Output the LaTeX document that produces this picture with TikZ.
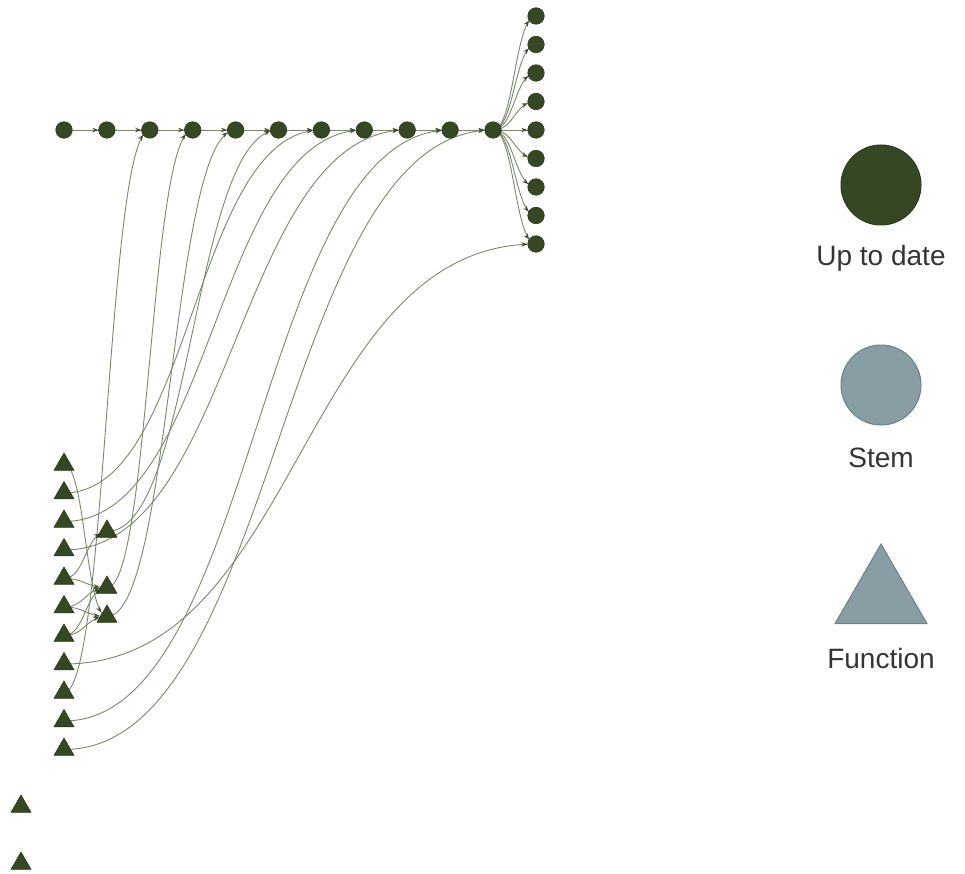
\documentclass[tikz,border=0pt]{standalone}
\usepackage{fontspec}
\setmainfont{Liberation Sans}
\usetikzlibrary{shapes.geometric,arrows.meta,calc,decorations.markings}
\pgfdeclarelayer{edgelayer}
\pgfsetlayers{edgelayer,main}
\definecolor{utd}{HTML}{354823}
\definecolor{utdb}{HTML}{2B3A1C}
\definecolor{stem}{HTML}{899DA4}
\definecolor{stemb}{HTML}{6D8189}
\definecolor{edgecol}{HTML}{7B876C}
\definecolor{arrowcol}{HTML}{3E4E2E}
\definecolor{textcol}{HTML}{343434}
\newcommand\cedge[3]{%
  \path let \p1=(#1.center), \p2=(#2.center) in
    coordinate (#1-#2-a) at ({0.5*\x1+0.5*\x2},\y1)
    coordinate (#1-#2-b) at ({0.5*\x1+0.5*\x2},\y2);
  \draw[edge=#3] (#1.center) .. controls (#1-#2-a) and (#1-#2-b) .. (#2.center);}
\begin{document}
\begin{tikzpicture}[x=1pt,y=-1pt,
  edge/.style={draw=edgecol, line width=0.9pt, postaction={decorate, decoration={markings,
     mark=at position -#1 with {\arrow[arrowcol]{Stealth[length=6pt,width=4.5pt]}}}}},
  utdc/.style={circle, fill=utd, draw=utdb, line width=0.6pt, minimum size=16.5pt, inner sep=0pt},
  utdt/.style={regular polygon, regular polygon sides=3, fill=utd, draw=utdb, line width=0.6pt, minimum size=23pt, inner sep=0pt},
  lab/.style={text=textcol, font=\fontsize{28}{32}\selectfont, inner sep=0pt}]
\useasboundingbox (0,0) rectangle (965,874);
% nodes
\foreach \i in {0,...,10} \node[utdc] (C\i) at ({64+42.9*\i},130) {};
\foreach \i in {0,...,8} \node[utdc] (R\i) at (536,{16+28.5*\i}) {};
\foreach \i in {0,...,10} \node[utdt] (T\i) at (64,{464.5+28.5*\i}) {};
\node[utdt] (M0) at (107,531.5) {};
\node[utdt] (M1) at (107,587.5) {};
\node[utdt] (M2) at (107,616.5) {};
\node[utdt] (X0) at (21,806.5) {};
\node[utdt] (X1) at (21,863.5) {};
% edges
\begin{pgfonlayer}{edgelayer}
\foreach \a/\b in {C0/C1,C1/C2,C2/C3,C3/C4,C4/C5,C5/C6,C6/C7,C7/C8,C8/C9,C9/C10,
  C10/R0,C10/R1,C10/R2,C10/R3,C10/R4,C10/R5,C10/R6,C10/R7,C10/R8,
  T8/C2,M1/C3,M2/C4,M0/C5,T1/C6,T2/C7,T3/C8,T9/C9,T10/C10,T7/R8} {\cedge{\a}{\b}{8.6pt}}
\foreach \a/\b in {T0/M2,T4/M0,T4/M1,T5/M1,T5/M2,T6/M1,T6/M2} {\cedge{\a}{\b}{7.5pt}}
\end{pgfonlayer}
% legend
\node[circle, fill=utd, draw=utdb, line width=1pt, minimum size=80pt, inner sep=0pt] (L1) at (881,185) {};
\node[lab] (L1t) at (881,258) {Up to date};
\node[circle, fill=stem, draw=stemb, line width=1pt, minimum size=80pt, inner sep=0pt] (L2) at (881,385) {};
\node[lab] (L2t) at (881,458) {Stem};
\node[regular polygon, regular polygon sides=3, fill=stem, draw=stemb, line width=1pt, minimum size=106pt, inner sep=0pt] (L3) at (881,597) {};
\node[lab] (L3t) at (881,658) {Function};
\end{tikzpicture}
\end{document}
